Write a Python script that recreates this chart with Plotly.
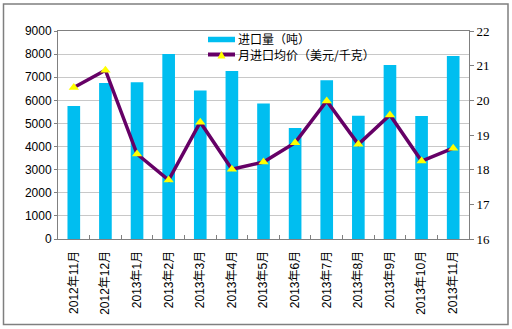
import plotly.graph_objects as go

months = ["2012年11月", "2012年12月", "2013年1月", "2013年2月", "2013年3月", "2013年4月",
          "2013年5月", "2013年6月", "2013年7月", "2013年8月", "2013年9月", "2013年10月", "2013年11月"]
volume_t = [5750, 6750, 6780, 8000, 6430, 7270, 5860, 4800, 6870, 5330, 7530, 5320, 7920]
price_usd_kg = [20.37, 20.87, 18.45, 17.70, 19.37, 18.01, 18.22, 18.78, 19.98, 18.73, 19.58, 18.25, 18.62]

left_ticks = list(range(0, 10000, 1000))
right_ticks = list(range(16, 23))

bar_name = "进口量（吨）"
line_name = "月进口均价（美元/千克）"
bar_color = "#00BEF0"
line_color = "#660066"
marker_color = "#FFFF00"

W, H = 512, 329
L, R, T, B = 58, 43, 31, 90
pw, ph = W - L - R, H - T - B


def fx(px):
    # pixel column -> paper x
    return (px - L) / pw


def fy(py):
    # pixel row -> paper y
    return (H - B - py) / ph


fig = go.Figure()
fig.add_trace(go.Bar(
    x=months, y=volume_t, name=bar_name,
    marker=dict(color=bar_color, line=dict(width=0)),
    width=0.4, showlegend=False,
))
fig.add_trace(go.Scatter(
    x=months, y=price_usd_kg, name=line_name, yaxis="y2",
    mode="lines+markers",
    line=dict(color=line_color, width=3.5),
    marker=dict(symbol="triangle-up", size=9, color=marker_color, line=dict(width=0)),
    showlegend=False,
))

# legend rows (pixel rows of the two entries)
row1, row2 = 39.5, 54.5

shapes = [
    # outer frame around the whole chart
    dict(type="rect", xref="paper", yref="paper",
         x0=fx(3.5), x1=fx(508), y0=fy(324.5), y1=fy(4),
         line=dict(color="#7f7f7f", width=1.5), fillcolor="rgba(0,0,0,0)", layer="below"),
    # legend keys
    dict(type="rect", xref="paper", yref="paper",
         x0=fx(208), x1=fx(235), y0=fy(row1 + 2.75), y1=fy(row1 - 2.75),
         line=dict(width=0), fillcolor=bar_color),
    dict(type="line", xref="paper", yref="paper",
         x0=fx(208), x1=fx(235), y0=fy(row2), y1=fy(row2),
         line=dict(color=line_color, width=4)),
    dict(type="path", xref="paper", yref="paper",
         path=f"M {fx(217.5)} {fy(row2 + 4)} L {fx(225.5)} {fy(row2 + 4)} L {fx(221.5)} {fy(row2 - 3.5)} Z",
         line=dict(width=0), fillcolor=marker_color),
]

annotations = [
    dict(text=f"{bar_name}<br>{line_name}", xref="paper", yref="paper",
         x=fx(236), y=fy((row1 + row2) / 2), xanchor="left", yanchor="middle", align="left",
         showarrow=False, font=dict(family="Noto Sans CJK SC", size=12, color="black")),
]

fig.update_layout(
    width=W, height=H,
    margin=dict(l=L, r=R, t=T, b=B, pad=0),
    paper_bgcolor="white", plot_bgcolor="white",
    font=dict(family="Liberation Sans, Arial, sans-serif", size=12, color="black"),
    showlegend=False,
    shapes=shapes,
    annotations=annotations,
    xaxis=dict(
        type="category", tickangle=-90, showgrid=False,
        tickfont=dict(family="Liberation Sans, Noto Sans CJK SC", size=12),
        showline=True, linecolor="#808080", linewidth=1, mirror=True,
        ticks="inside", tickson="boundaries", ticklen=4, tickcolor="#808080",
        ticklabelstandoff=6,
        range=[-0.5, len(months) - 0.5],
    ),
    yaxis=dict(
        range=[0, 9000], tickvals=left_ticks, showgrid=True, gridcolor="#c8c8c8", gridwidth=1,
        showline=True, linecolor="#808080", linewidth=1, ticks="outside", ticklen=3, tickcolor="#808080",
        tickfont=dict(size=12), zeroline=False,
    ),
    yaxis2=dict(
        range=[16, 22], tickvals=right_ticks, overlaying="y", side="right", showgrid=False,
        showline=True, linecolor="#808080", linewidth=1, ticks="outside", ticklen=4, tickcolor="#808080",
        tickfont=dict(family="Liberation Serif, serif", size=13), zeroline=False,
    ),
)

fig.write_html("out.html")
